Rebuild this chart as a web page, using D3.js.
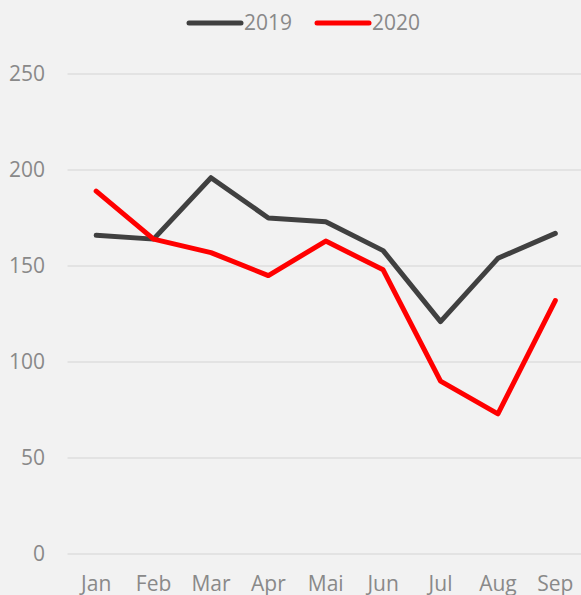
<!DOCTYPE html>
<html>
<head>
<meta charset="utf-8">
<script src="https://cdn.jsdelivr.net/npm/d3@7"></script>
<style>
  html, body { margin: 0; padding: 0; background: #f2f2f2; }
  svg { display: block; }
</style>
</head>
<body>
<svg id="chart" width="581" height="595"></svg>
<script>
// values
const months = ["Jan", "Feb", "Mar", "Apr", "Mai", "Jun", "Jul", "Aug", "Sep"];
const values2019 = [166, 164, 196, 175, 173, 158, 121, 154, 167];
const values2020 = [189, 164, 157, 145, 163, 148, 90, 73, 132];
const yTicks = [0, 50, 100, 150, 200, 250];

const series = [
  { name: "2019", color: "#404040", values: values2019 },
  { name: "2020", color: "#ff0000", values: values2020 }
];

const svg = d3.select("#chart");
const width = 581;
const height = 595;
const font = "'Open Sans', 'Noto Sans', sans-serif";
const textColor = "#898989";

svg.append("rect")
  .attr("width", width)
  .attr("height", height)
  .attr("fill", "#f2f2f2");

// plot area runs past the right edge, like the cropped original
const x = d3.scaleBand()
  .domain(months)
  .range([67.5, 584]);

const y = d3.scaleLinear()
  .domain([0, 250])
  .range([554, 74]);

// gridlines
svg.append("g")
  .selectAll("line")
  .data(yTicks)
  .join("line")
  .attr("x1", x.range()[0])
  .attr("x2", x.range()[1])
  .attr("y1", d => y(d))
  .attr("y2", d => y(d))
  .attr("stroke", "#dedede")
  .attr("stroke-width", 1.5);

// y labels
svg.append("g")
  .selectAll("text")
  .data(yTicks)
  .join("text")
  .attr("x", 45)
  .attr("y", d => y(d))
  .attr("dy", "0.35em")
  .attr("text-anchor", "end")
  .attr("fill", textColor)
  .style("font-family", font)
  .style("font-size", "21px")
  .text(d => d);

// x labels
svg.append("g")
  .selectAll("text")
  .data(months)
  .join("text")
  .attr("x", d => x(d) + x.bandwidth() / 2)
  .attr("y", 591)
  .attr("text-anchor", "middle")
  .attr("fill", textColor)
  .style("font-family", font)
  .style("font-size", "21px")
  .text(d => d);

// lines
const line = d3.line()
  .x((d, i) => x(months[i]) + x.bandwidth() / 2)
  .y(d => y(d));

svg.append("g")
  .selectAll("path")
  .data(series)
  .join("path")
  .attr("d", d => line(d.values))
  .attr("fill", "none")
  .attr("stroke", d => d.color)
  .attr("stroke-width", 5)
  .attr("stroke-linejoin", "round")
  .attr("stroke-linecap", "round");

// legend
const legend = svg.append("g")
  .selectAll("g")
  .data(series)
  .join("g")
  .attr("transform", (d, i) => `translate(${189 + i * 128},23)`);

legend.append("line")
  .attr("x1", 0)
  .attr("x2", 52)
  .attr("stroke", d => d.color)
  .attr("stroke-width", 5)
  .attr("stroke-linecap", "round");

legend.append("text")
  .attr("x", 55)
  .attr("dy", "0.35em")
  .attr("fill", textColor)
  .style("font-family", font)
  .style("font-size", "21px")
  .text(d => d.name);
</script>
</body>
</html>
